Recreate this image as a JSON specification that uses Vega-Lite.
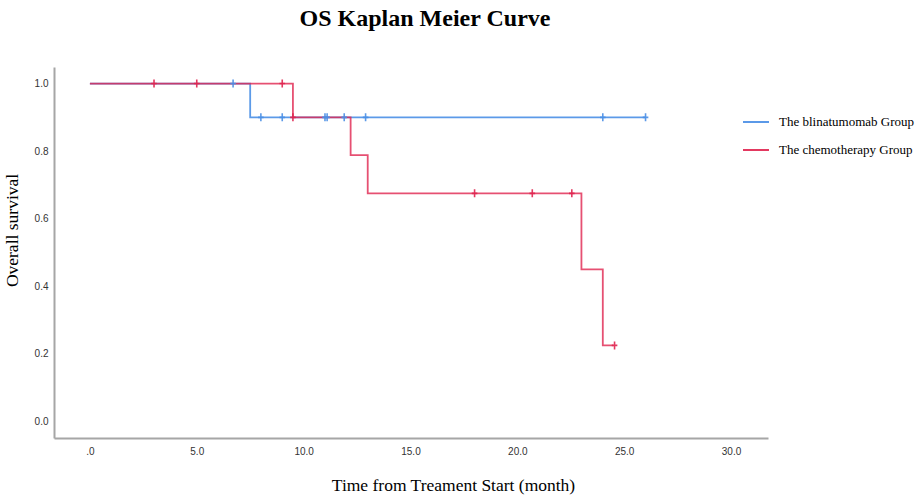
{
  "$schema": "https://vega.github.io/schema/vega-lite/v6.json",
  "width": 714,
  "height": 371,
  "autosize": {"type": "none"},
  "padding": {"left": 54, "top": 67, "right": 156, "bottom": 66},
  "background": "white",
  "title": {
    "text": "OS Kaplan Meier Curve",
    "font": "Liberation Serif",
    "fontSize": 24,
    "fontWeight": "bold",
    "color": "#000000",
    "anchor": "middle",
    "dx": 14,
    "offset": 36
  },
  "config": {
    "view": {"stroke": null},
    "axis": {"grid": false, "ticks": false, "domainColor": "#a6a6a6", "domainWidth": 2}
  },
  "datasets": {
    "curve": [
      {"group": "The blinatumomab Group", "time": 0, "surv": 1.0},
      {"group": "The blinatumomab Group", "time": 7.5, "surv": 0.9},
      {"group": "The blinatumomab Group", "time": 26.0, "surv": 0.9},
      {"group": "The chemotherapy Group", "time": 0, "surv": 1.0},
      {"group": "The chemotherapy Group", "time": 9.5, "surv": 0.9},
      {"group": "The chemotherapy Group", "time": 12.2, "surv": 0.788},
      {"group": "The chemotherapy Group", "time": 13.0, "surv": 0.675},
      {"group": "The chemotherapy Group", "time": 23.0, "surv": 0.45},
      {"group": "The chemotherapy Group", "time": 24.0, "surv": 0.225},
      {"group": "The chemotherapy Group", "time": 24.5, "surv": 0.225}
    ],
    "censor": [
      {"group": "The blinatumomab Group", "time": 6.7, "surv": 1.0},
      {"group": "The blinatumomab Group", "time": 8.0, "surv": 0.9},
      {"group": "The blinatumomab Group", "time": 9.0, "surv": 0.9},
      {"group": "The blinatumomab Group", "time": 11.0, "surv": 0.9},
      {"group": "The blinatumomab Group", "time": 11.1, "surv": 0.9},
      {"group": "The blinatumomab Group", "time": 11.9, "surv": 0.9},
      {"group": "The blinatumomab Group", "time": 12.9, "surv": 0.9},
      {"group": "The blinatumomab Group", "time": 24.0, "surv": 0.9},
      {"group": "The blinatumomab Group", "time": 26.0, "surv": 0.9},
      {"group": "The chemotherapy Group", "time": 3.0, "surv": 1.0},
      {"group": "The chemotherapy Group", "time": 5.0, "surv": 1.0},
      {"group": "The chemotherapy Group", "time": 9.0, "surv": 1.0},
      {"group": "The chemotherapy Group", "time": 9.5, "surv": 0.9},
      {"group": "The chemotherapy Group", "time": 18.0, "surv": 0.675},
      {"group": "The chemotherapy Group", "time": 20.7, "surv": 0.675},
      {"group": "The chemotherapy Group", "time": 22.55, "surv": 0.675},
      {"group": "The chemotherapy Group", "time": 24.55, "surv": 0.225}
    ]
  },
  "encoding": {
    "x": {
      "field": "time",
      "type": "quantitative",
      "scale": {"domain": [-1.68, 31.73], "nice": false, "zero": false},
      "axis": {
        "values": [0, 5, 10, 15, 20, 25, 30],
        "labelExpr": "datum.value == 0 ? '.0' : format(datum.value, '.1f')",
        "labelFont": "Liberation Sans",
        "labelFontSize": 10,
        "labelColor": "#333333",
        "labelPadding": 8,
        "title": "Time from Treament Start (month)",
        "titleFont": "Liberation Serif",
        "titleFontSize": 17.5,
        "titleFontWeight": "normal",
        "titleColor": "#000000",
        "titleX": 399,
        "titleY": 38,
        "titleBaseline": "top"
      }
    },
    "y": {
      "field": "surv",
      "type": "quantitative",
      "scale": {"domain": [-0.049, 1.049], "nice": false, "zero": false},
      "axis": {
        "values": [0, 0.2, 0.4, 0.6, 0.8, 1.0],
        "format": ".1f",
        "labelFont": "Liberation Sans",
        "labelFontSize": 10,
        "labelColor": "#333333",
        "labelPadding": 6,
        "title": "Overall survival",
        "titleFont": "Liberation Serif",
        "titleFontSize": 17.5,
        "titleFontWeight": "normal",
        "titleColor": "#000000",
        "titleX": -33,
        "titleY": 163,
        "titleAngle": -90,
        "titleAlign": "center",
        "titleBaseline": "bottom"
      }
    },
    "color": {
      "field": "group",
      "type": "nominal",
      "scale": {
        "domain": ["The blinatumomab Group", "The chemotherapy Group"],
        "range": ["#4a8fe6", "#e0244f"]
      },
      "legend": {
        "title": null,
        "orient": "none",
        "legendX": 688,
        "legendY": 41,
        "symbolType": "stroke",
        "symbolSize": 676,
        "symbolStrokeWidth": 2,
        "rowPadding": 7,
        "labelFont": "Liberation Serif",
        "labelFontSize": 13,
        "labelColor": "#000000",
        "labelOffset": 9,
        "labelLimit": 300
      }
    }
  },
  "layer": [
    {
      "data": {"name": "curve"},
      "transform": [{"filter": "datum.group == 'The blinatumomab Group'"}],
      "mark": {"type": "line", "interpolate": "step-after", "strokeWidth": 1.8, "opacity": 0.9}
    },
    {
      "data": {"name": "curve"},
      "transform": [{"filter": "datum.group == 'The chemotherapy Group'"}],
      "mark": {"type": "line", "interpolate": "step-after", "strokeWidth": 1.8, "opacity": 0.8}
    },
    {
      "data": {"name": "censor"},
      "mark": {
        "type": "point",
        "shape": "M0,-1L0,1M-0.7,0L0.7,0",
        "filled": false,
        "size": 64,
        "strokeWidth": 1.6,
        "opacity": 0.9
      }
    }
  ]
}
